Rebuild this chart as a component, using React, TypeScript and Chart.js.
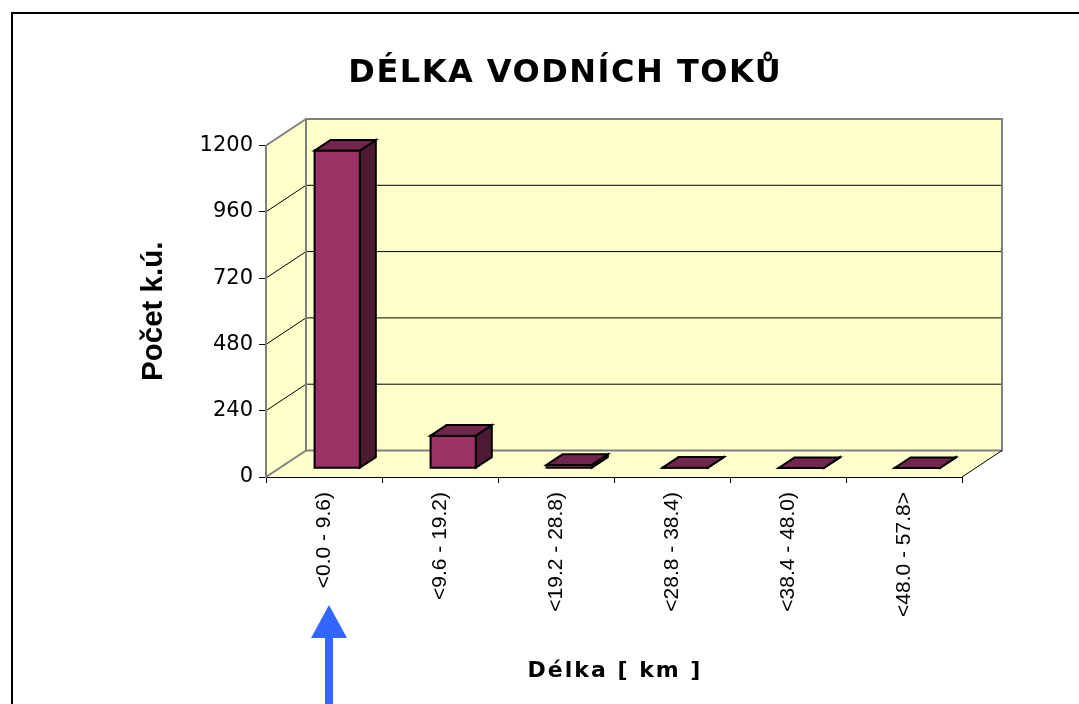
import React, { useEffect, useRef } from 'react';
import { Chart, registerables } from 'chart.js';

Chart.register(...registerables);

// ---- data ----
const categories = ['<0.0 - 9.6)', '<9.6 - 19.2)', '<19.2 - 28.8)', '<28.8 - 38.4)', '<38.4 - 48.0)', '<48.0 - 57.8>'];
const counts = [1150, 118, 12, 2, 1, 1];
const yTickValues = [0, 240, 480, 720, 960, 1200];
const chartTitle = 'DÉLKA VODNÍCH TOKŮ';
const xTitle = 'Délka [ km ]';
const yTitle = 'Počet k.ú.';

// ---- style ----
const WALL = '#FFFFCC';
const WALL_EDGE = '#808080';
const FRONT = '#993366';
const TOP = '#73264D';
const SIDE = '#4D1A33';
const ARROW = '#3366FF';
const DEPTH_X = 40;
const DEPTH_Y = -26.5;
const BAR_F1 = 0.33;
const BAR_F2 = 0.73;

function poly(ctx: CanvasRenderingContext2D, pts: number[][]) {
  ctx.beginPath();
  ctx.moveTo(pts[0][0], pts[0][1]);
  for (let i = 1; i < pts.length; i++) ctx.lineTo(pts[i][0], pts[i][1]);
  ctx.closePath();
}

const excel3d = {
  id: 'excel3d',
  beforeDraw(chart: any) {
    const { ctx, chartArea: a, scales } = chart;
    const ys = scales.y;
    const xs = scales.x;
    ctx.save();
    // outer frame
    ctx.strokeStyle = '#000';
    ctx.lineWidth = 2;
    ctx.strokeRect(12, 13, 2000, 2000);

    // titles
    ctx.fillStyle = '#000';
    ctx.textAlign = 'center';
    ctx.textBaseline = 'alphabetic';
    ctx.font = 'bold 32px "DejaVu Sans"';
    (ctx as any).letterSpacing = '1.5px';
    ctx.fillText(chartTitle, 564.5 + 0.75, 82);
    ctx.font = 'bold 22px "DejaVu Sans"';
    (ctx as any).letterSpacing = '2px';
    ctx.fillText(xTitle, (xs.left + xs.right) / 2 + 1, 677);
    (ctx as any).letterSpacing = '0px';

    const bx = DEPTH_X, by = DEPTH_Y;
    // walls
    ctx.fillStyle = WALL;
    ctx.fillRect(a.left + bx, a.top + by, a.right - a.left, a.bottom - a.top);
    poly(ctx, [[a.left, a.top], [a.left + bx, a.top + by], [a.left + bx, a.bottom + by], [a.left, a.bottom]]);
    ctx.fill();
    poly(ctx, [[a.left, a.bottom], [a.left + bx, a.bottom + by], [a.right + bx, a.bottom + by], [a.right, a.bottom]]);
    ctx.fill();

    // gridlines
    const vals = yTickValues;
    for (const v of vals) {
      const py = ys.getPixelForValue(v);
      const edge = v === vals[0] || v === vals[vals.length - 1];
      ctx.beginPath();
      ctx.moveTo(a.left, py);
      ctx.lineTo(a.left + bx, py + by);
      if (!edge) ctx.lineTo(a.right + bx, py + by);
      ctx.strokeStyle = edge ? WALL_EDGE : '#000';
      ctx.lineWidth = edge ? 2 : 1;
      ctx.stroke();
    }
    // back wall border
    ctx.strokeStyle = WALL_EDGE;
    ctx.lineWidth = 2;
    ctx.strokeRect(a.left + bx, a.top + by, a.right - a.left, a.bottom - a.top);
    // floor right edge
    ctx.beginPath();
    ctx.moveTo(a.right, a.bottom);
    ctx.lineTo(a.right + bx, a.bottom + by);
    ctx.strokeStyle = '#000';
    ctx.lineWidth = 1;
    ctx.stroke();
    ctx.restore();
  },
  afterDatasetsDraw(chart: any) {
    const { ctx } = chart;
    const meta = chart.getDatasetMeta(0);
    const dx1 = DEPTH_X * BAR_F1, dy1 = DEPTH_Y * BAR_F1;
    const ddx = DEPTH_X * (BAR_F2 - BAR_F1), ddy = DEPTH_Y * (BAR_F2 - BAR_F1);
    ctx.save();
    ctx.lineWidth = 2;
    ctx.strokeStyle = '#000';
    ctx.lineJoin = 'miter';
    for (const el of meta.data) {
      const p = el.getProps(['x', 'y', 'base', 'width'], true);
      const x0 = p.x - p.width / 2 + dx1;
      const x1 = p.x + p.width / 2 + dx1;
      const yt = p.y + dy1;
      const yb = p.base + dy1;
      // side
      poly(ctx, [[x1, yt], [x1 + ddx, yt + ddy], [x1 + ddx, yb + ddy], [x1, yb]]);
      ctx.fillStyle = SIDE; ctx.fill(); ctx.stroke();
      // front
      poly(ctx, [[x0, yt], [x1, yt], [x1, yb], [x0, yb]]);
      ctx.fillStyle = FRONT; ctx.fill(); ctx.stroke();
      // top
      poly(ctx, [[x0, yt], [x0 + ddx, yt + ddy], [x1 + ddx, yt + ddy], [x1, yt]]);
      ctx.fillStyle = TOP; ctx.fill(); ctx.stroke();
    }
    ctx.restore();
  },
  afterDraw(chart: any) {
    const { ctx } = chart;
    const xs = chart.scales.x;
    const cx = xs.getPixelForValue(0) + 5;
    const tip = 605;
    ctx.save();
    ctx.fillStyle = ARROW;
    poly(ctx, [[cx, tip], [cx + 18, tip + 33], [cx + 4, tip + 33], [cx + 4, 720], [cx - 4, 720], [cx - 4, tip + 33], [cx - 18, tip + 33]]);
    ctx.fill();
    ctx.restore();
  },
};

export default function App() {
  const ref = useRef<HTMLCanvasElement | null>(null);
  useEffect(() => {
    if (!ref.current) return;
    Chart.defaults.font.family = '"Liberation Sans", Arial, sans-serif';
    const chart = new Chart(ref.current, {
      type: 'bar',
      data: {
        labels: categories,
        datasets: [
          {
            data: counts,
            backgroundColor: 'rgba(0,0,0,0)',
            borderWidth: 0,
            barPercentage: 0.39,
            categoryPercentage: 1,
          },
        ],
      },
      options: {
        responsive: false,
        animation: false,
        devicePixelRatio: 1,
        layout: { padding: { left: 130, right: 117, top: 145.5, bottom: 0 } },
        plugins: {
          legend: { display: false },
          title: { display: false },
          tooltip: { enabled: false },
        },
        scales: {
          x: {
            grid: { offset: true, drawOnChartArea: false, drawTicks: true, tickLength: 6, color: '#000', lineWidth: 1 },
            border: { display: true, color: '#000', width: 1 },
            ticks: {
              autoSkip: false,
              maxRotation: 90,
              minRotation: 90,
              padding: 9,
              color: '#000',
              font: { family: '"Liberation Sans", Arial, sans-serif', size: 21 },
            },
            afterFit: (s: any) => { s.height = 227; },
          },
          y: {
            min: 0,
            max: 1200,
            afterBuildTicks: (s: any) => { s.ticks = yTickValues.map((v) => ({ value: v })); },
            grid: { drawOnChartArea: false, drawTicks: true, tickLength: 7, color: '#000', lineWidth: 1 },
            border: { display: true, color: WALL_EDGE, width: 2 },
            ticks: {
              padding: 6,
              color: '#000',
              font: { family: '"DejaVu Sans"', size: 21 },
              callback: (v: any) => String(v),
            },
            title: {
              display: true,
              text: yTitle,
              color: '#000',
              font: { family: '"Liberation Sans", Arial, sans-serif', size: 29.5, weight: 'bold' },
              padding: { top: 6, bottom: 0 },
            },
            afterFit: (s: any) => { s.width = 136; },
          },
        },
      },
      plugins: [excel3d],
    } as any);
    return () => chart.destroy();
  }, []);
  return (
    <div style={{ position: 'fixed', left: 0, top: 0, width: 1079, height: 704, background: '#fff' }}>
      <canvas ref={ref} width={1079} height={704} style={{ display: 'block', width: 1079, height: 704 }} />
    </div>
  );
}
